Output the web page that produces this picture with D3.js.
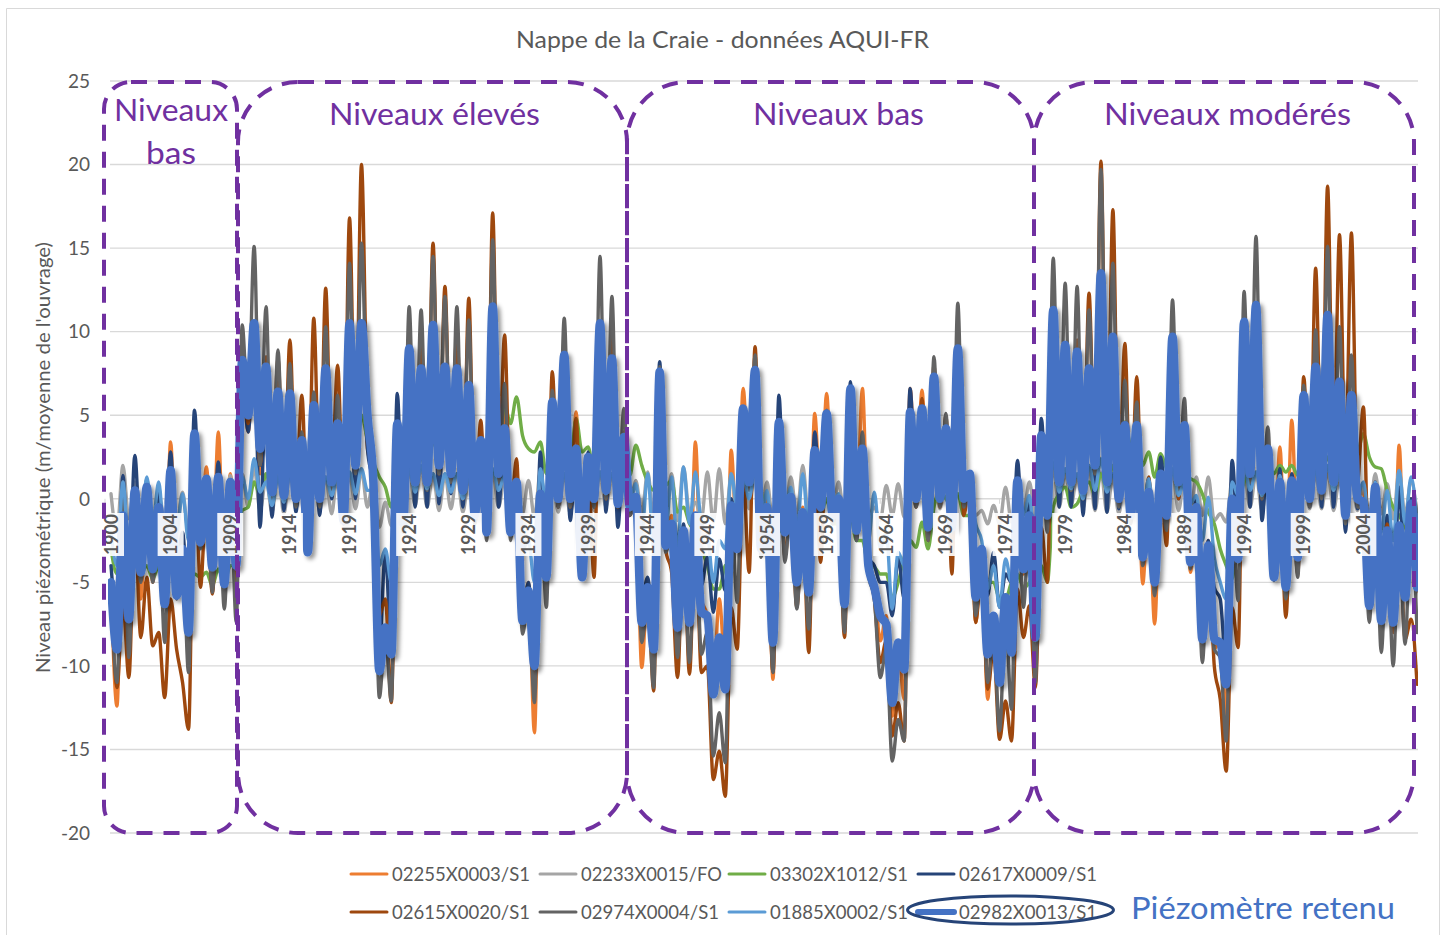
<!DOCTYPE html>
<html><head><meta charset="utf-8">
<script src="https://cdnjs.cloudflare.com/ajax/libs/d3/7.8.5/d3.min.js"></script>
<style>html,body{margin:0;padding:0;background:#fff}svg{display:block}text{font-family:Lato,"Open Sans",sans-serif}</style>
</head><body><svg id="c" width="1446" height="935"></svg>
<script>
// Each series alternates a seasonal high and low: high at sample n, low at sample n+0.5
const chartTitle = "Nappe de la Craie - données AQUI-FR";
const yAxisTitle = "Niveau piézométrique (m/moyenne de l'ouvrage)";
const tickLabels = ["1900","1904","1909","1914","1919","1924","1929","1934","1939","1944","1949","1954","1959","1964","1969","1974","1979","1984","1989","1994","1999","2004"];
const yTicks = [-20,-15,-10,-5,0,5,10,15,20,25];

const s02255 = [-5,-12.4,0,-9,0,-6,.5,-5,-.5,-6.5,3.4,-5.5,-2.5,-9,3.5,-2.5,1.9,-4,4,-5,1.5,-4.5,7,4,9,1.5,7,.3,6,0,5.5,-.3,3,-3,5,0,7,1,4,-1,9.5,1,9.5,3,1.5,-9,-8,-11.5,4,-1.5,8,1,7,1,9.5,1.5,8,1,7,.5,6,-1,3.5,-1.5,10,1.5,5.3,-1.5,1,-7.5,-5,-14,0,-4,5.5,0,8,0,5.2,-4,2.5,0,9.5,.5,8,0,3.5,-.5,0,-10.1,-5,-9.5,7,-2,-1,-7,-2,-6.5,3.4,-6,-7,-11,-6,-10,2.9,-3,6.6,1,7.5,-2.5,0,-10.8,4.5,-2,.5,-5,-.5,-5.5,5.1,-.5,6.3,-1,0,-6,6.3,-1.5,6.6,-3.5,-5,-8.5,-7,-13,-9,-12,6.6,.5,6.5,-1.5,7,.2,4.2,-2,8.5,0,1.5,-7.4,-3,-12,-7,-11,-6,-9,1,-4.5,-.5,-8,3.5,-.5,10.5,1,8.5,1,8,.5,7,2,12,1,9,.5,4,-1,4,-5.1,0,-7.5,1,-1.5,9,1,4,-4.4,-.5,-8,-2.5,-9,-8.5,-13,0,-3.5,10,1.5,11,.5,3,-4.5,3.1,-5,4.7,-3.5,6,0,7.5,.5,10.5,1,6.5,-1,6,0,.5,-6,1,-6.5,-1.5,-7,3.2,-6,0,-5.5];
const s02233 = [.3,-2,2,-1.2,1,-1.5,1.2,-1.6,.6,-2.2,1,-1.6,.4,-2,1,-1.2,1.1,-1.4,1.7,-1.2,1.4,-.9,1.5,-.5,1.9,-.7,1.2,-.8,1.5,-.9,1.6,-.6,1.7,-.8,1.4,-.7,1.3,-.9,1.6,-1,1.5,-.6,1.7,-.5,1.2,-1.7,-.2,-1.6,1.2,-.7,1.7,-.4,2,-.5,1.5,-.7,1.4,-.6,1.5,-.8,1.2,-.7,1.6,-.6,1.6,-.5,1.3,-.8,1.2,-.9,1.1,-1.1,1.6,-1,1.3,-.8,1.5,-.9,1.1,-1.1,1.3,-.7,1.6,-.5,1.5,-.7,1.2,-.9,1.1,-.9,1.6,-1.2,1.7,-.8,1.5,-1.3,1.9,-.8,-.2,-1.2,1.6,-1.4,1.8,-1.5,1.4,-.9,1.5,-.6,1.8,-1,1,-1.3,1.2,-.9,1.3,-1.1,2,-1.2,1.2,-.8,1.5,-.8,1,-1.2,1.4,-.7,.9,-1,-.5,-1.3,.8,-1,.9,-1.1,1.1,-.5,1.2,-.8,1.5,-.6,1.2,-.9,1.7,-.5,1.2,-1,-.7,-1.5,-.4,-1.5,.7,-1.4,.5,-.8,1,-1.1,1.2,-.8,1.8,-.5,1.6,-.4,1.4,-.6,1.9,-.7,1.6,-.8,1.3,-.9,1.5,-.9,1.2,-1,1.1,-.9,.9,-.6,1.6,-.7,1.2,-.8,1.3,-1,1.3,-1.3,-.9,-1.4,1.1,-.6,1.7,-.5,1.5,-.7,1.2,-.9,1.3,-.8,1.1,-.9,1.4,-.6,1.5,-.6,1.7,-.7,1.2,-.9,1.3,-.7,.9,-1,1.5,-.9,.9,-1.2,1.7,-1,1.1,-1];
const s03302 = [-3,-4.5,-3.5,-5,-3.5,-4.5,-4,-4.8,-4,-5,-4.2,-5,-4.5,-5,-4.5,-4.7,-4.4,-5.2,-4.2,-5,-4,-4,-.7,-.5,1,.2,1.5,.5,1.2,.6,1.5,.7,1.8,.9,2,1,2.4,1.2,2,1.4,3,2,5,3.5,2.2,1.3,.7,-.5,2,.5,3,2,2.5,1.5,3.5,2.5,3.2,2.2,3,2.2,3.6,2.4,3,2,4,3,5.6,4.5,6.1,3.8,3,2.8,3.4,1.5,3,1.5,3.2,2,4.8,2.8,3.1,1.5,3,1.5,2.5,1.5,2.2,1.4,3.2,2,1,.5,1.5,.8,1.1,-.8,-.5,-1.5,-2,-3,-4,-5.4,-5.4,-4,-3.8,-1.5,.5,1,2,.5,-2,-2.5,-2,-1.5,-1,-2,-1.5,-2,-.5,-1,0,-1.5,-1.5,-2,-1,-2.5,-2.5,-4,-4.1,-4.5,-4.5,-5.9,-5,-3.5,-2.5,-2.9,-1.4,-3,-.5,.5,0,-.5,.3,-1,-1,-3,-4,-5,-5,-6,-6,-5,-4.5,-5.3,-5,-4,-4,-5,-.5,.3,.7,-.5,-.3,.5,1,.2,1.5,.5,2,1.2,4.6,3,2.5,2,2.8,1.3,2.7,1.8,1.5,1.2,1.5,1.2,1,.3,-.8,-1.5,-3,-4,-4.8,-1,1,1.5,1.5,2,2,1.5,2,1.6,2,1.4,1.8,1.2,2,1.5,2.5,1.5,2.2,1.8,2.8,2.8,3.9,2.5,1.9,1.8,.5,-.5,-1,-1.7,-2.5,-3];
const s02617 = [-4,-7,1.4,-5,2.6,-3,.5,-3,.5,-3,2.8,-4,-2,-6.5,5.3,-1.5,1.2,-3,2.2,-4,1,-3,7.5,4,8.5,-1.7,7,-1.1,6,-.7,6,-.8,3.2,-3,5,-1,7,0,4,-1.5,9,0,9.5,3,.5,-9,-3.2,-9,6.3,-2,8,-.5,7.5,-.5,10,-.3,7.5,.3,7.5,-.5,6.5,-.2,3,-.5,11,-.5,4,-1.7,1,-7,-5,-9.5,2.8,-4.5,5.5,-.5,8,-1.3,3,-4.5,2.8,-.5,10,-.8,8,-1.7,3.5,-1,0,-6,-4.7,-8,8.2,-3,-2,-7,-1.5,-7,-1,-5.2,-3.5,-6.8,-3.6,-5.5,0,-2.5,5.4,1,7.5,-3,-.5,-8,6.2,-2,0,-4.5,-.8,-5,4,-.5,5,-1,0,-6,7,-2.5,3,-3.5,-4,-5,-5,-7,-3.5,-6,6.6,0,5.4,-1.7,7.2,0,4.2,-1.7,8.8,-.5,1.5,-3.5,-3,-5.8,-3.2,-6.5,-4.5,-5,2.3,-3,0,-5.5,4.8,-1,11,-.5,9,-.5,8.5,-1,7.5,-.6,13,-.8,9.5,-.6,4.2,-1,4,-2.5,1,-4.5,2.5,-.5,9.5,0,4.2,-3,0,-7,-2.5,-5.3,-6,-10,2.3,-2.5,10.3,-.5,11.3,-1.3,3,-4,1.8,-4.8,1.5,-3,6,-.5,7.7,-.5,10.8,-.5,6.8,-2,6,-.6,0,-5.5,1,-6,-1,-6.5,.7,-5,0,-4.5];
const s02615 = [-5,-11.3,-6.2,-10.7,-1.5,-8.3,-4.7,-8.8,-8,-11.9,-6,-9,-11,-13.8,3,-5.3,0,-5.7,1,-5.5,.5,-6,8.9,4.5,10,2,8.5,.5,8.4,0,9.5,0,6.2,-2,10.8,0,12.6,1,8,-.5,16.8,2,20,5,2,-7,-6,-12.2,3.5,-1.5,9,1,9.5,1,15.3,1.5,12.7,1,10,0,12,-1.5,4.7,-2,17.1,1,9.8,-1,2.4,-7,-5.5,-11.5,0,-5.5,7.6,-.5,8.9,-.5,4.8,-4.5,2,-4.7,10,0,9.7,-.5,4,-1,0,-8,-5.5,-11.5,7,-3,-4.4,-10.7,-2.5,-10.5,-2,-10.4,-10,-16.8,-15.1,-17.8,-6.5,-9,1.5,-4.4,9.1,-3,-1.5,-10.4,4,-3.5,-.5,-6.5,-1.5,-9.2,2.5,-3.8,4.5,-1.5,-.5,-8.3,6.3,-2,3.5,-4,-6,-9.8,-8.5,-14.2,-12.2,-14.5,5,-.5,6,-2.5,8,-.5,5,-4.5,9,-1,1,-7.4,-4,-11.4,-9,-14.4,-12.1,-14.5,-5.4,-8.3,-6.4,-11.3,-1.7,-5,10,1,9,.5,9.5,0,12.3,1.5,20.2,.5,17.3,0,9.3,-1,7.3,-2,1.3,-4,1,-2.8,10,0,5.2,-4,-1,-8,-3,-10,-12,-16.3,-6.5,-8.9,9,1,11,0,3,-4.5,.5,-7.1,.5,-4.5,7.3,0,13.8,1,18.7,2,15.8,2,15.9,1,5.5,-5,1,-7,-1.5,-8,-2,-8.4,-7.2,-11.1];
const s02974 = [-5,-11,1,-9.5,0,-5,.5,-5,-1,-8.6,1.5,-6,-3,-10.4,3.5,-3,1,-5.6,1,-6.6,.8,-7.4,10.4,5,15.1,2,11.5,0,8.9,0,8.1,-.5,4,-3,6.4,-.5,10.3,.5,6.2,-1.5,14.1,1.5,15.3,4,1,-11.9,-8,-12.1,4,-2,11.5,.5,11.3,.5,14.5,1.5,12.1,1,11.5,0,10.7,-1.5,3.5,-2.5,15.5,1,6.9,-2.5,1,-8.1,-6,-12.2,0,-6.5,6.5,-.5,10.8,-.5,3,-4.8,2.5,-.5,14.5,0,12.1,-.5,5.4,-1,0,-8.6,-6,-11.3,7.9,-3.2,-2,-9.5,-2.5,-9.8,-1.5,-9.3,-8,-15.4,-12.8,-15.8,-.5,-6.2,5.2,.5,8.6,-3.5,-1,-10.4,4.5,-3.8,-.5,-6.6,-1.5,-7.8,2.5,-1,5.3,-1.5,-.5,-8,6.3,-2.5,4,-4.5,-6,-10.7,-9,-15.7,-13.2,-14.5,5.3,-.5,5.5,-2.5,8.5,-.5,5.1,-2,11.7,-.5,1,-7,-3.5,-11,-8,-13.9,-7,-12.6,.8,-6.5,-1.5,-11,3.5,-2,14.4,.5,12.9,.5,12.7,0,11.3,1.5,19.7,.5,14.1,-.5,7.1,-1.5,5.8,-4,0,-5.8,1,-1.9,11.9,.5,6,-4.2,-1,-9.8,-3.5,-9,-9.5,-14.5,-.5,-6.1,12.4,1,15.7,0,4.3,-4.9,.5,-6,.5,-4.7,6.8,-.5,10.1,0,15.1,.5,10.3,-1.5,8.6,-.5,-.5,-7.4,.2,-9.2,-2.5,-10,-2,-8.7,-1,-8];
const s01885 = [-2,-4,1,-3,.5,-2,1.3,-1.5,1,-2.5,1.5,-2,.3,-2.5,1.2,-1,1.2,-1.5,1,-1.5,.8,-.5,1.3,0,2.4,.4,1,-.4,1.3,-.2,1.5,.3,1.6,-.3,1.4,0,1.3,.2,1.5,.2,1.6,.3,1.8,.5,.5,-4,-3,-5,1,-.4,1.8,.4,2,.6,1.5,.2,1.5,.4,1.5,0,1.2,.2,1.4,.3,1.8,.5,1.4,.2,.8,-3,-2.5,-5,1.8,-.5,1.2,.3,1.5,0,1.2,-.8,1.3,.1,1.6,.3,1.5,.2,1.2,-.3,.9,-2,1.5,-3,1.6,-2,1.3,-3,1.9,-1.5,1.6,-1.5,-2,-5,-2.5,-3,1.5,-.5,1.5,0,1.8,-1.5,.5,-3,1,-.8,.7,-2,1.5,-2,1.3,-.5,1.5,-.5,.3,-2.5,1.6,0,1,-2.5,.4,-3,-2,-6.6,-3.2,-4,1,.2,1.3,-.5,1.4,0,1.2,-.5,1.8,.2,1,-1.5,-2.5,-5.4,-4,-6.5,-3.6,-5,1,-1,.2,-3.5,1,0,2.2,.4,1.8,.6,1.5,0,2,.5,2.4,.4,1.5,.2,1.4,-.1,1.3,-1,1.2,-2,1,0,1.8,.2,1,-.3,.2,-2.5,.1,-3.5,-5,-6,1,.2,2,.5,1.6,.2,1.3,-.5,1.4,-1,1.2,-.5,1.5,.3,1.7,.4,2,.5,1.5,.1,1.4,.2,1,-1.5,1,-2,.5,-2.5,1.7,-1.5,1.3,-1.5];
const s02982 = [-5,-9,-1,-7.2,.5,-4.4,.7,-4.2,-.5,-6.3,1.7,-5.8,-3,-8,3.9,-2.6,1.2,-4.1,1.3,-5.1,1,-4,8.3,5,10.5,3,7.9,.4,6.4,.2,6.3,0,3.5,-3.2,5.6,0,7.8,1,4.5,-1.3,10.5,2,10.5,5,1,-10.3,-7.7,-9.3,4.5,-1.5,9,1,7.8,1,10.4,2,7.9,1.5,7.8,.5,6.8,-1,3.5,-2,11.5,1.5,4.2,-2,1,-7.3,-5.5,-10,.3,-4.7,5.8,0,8.6,0,3,-4.7,2.5,0,10.5,.5,8.4,-.3,3.7,-.5,.1,-7.4,-5.3,-9,7.6,-2.8,-1.5,-7.7,-1.9,-7.4,-1,-6.8,-7,-11.7,-8.3,-11.4,-.4,-3,5.4,1,7.7,-3,-.5,-8.6,4.6,-2,.1,-5,-.8,-5.6,2.9,-.5,5.1,-1,0,-6.3,6.6,-1.9,3,-4,-5.3,-7,-7.5,-12.2,-8.6,-10.2,5.2,0,5.4,-1.7,7.3,0,4.2,-1.7,9,0,1.5,-5.9,-3,-9.3,-7,-11,-5.9,-9.2,1.1,-4.2,-1,-8.3,3.8,-1,11.3,1,9.2,1,8.8,.5,7.8,2,13.5,1,9.7,0,4.4,-1,4.4,-3.5,.4,-5,1.5,-1,9.7,1,4.4,-3.8,-.5,-8.4,-2.8,-8.4,-8.6,-11.1,0,-3.6,10.6,1.5,11.6,.5,3,-4.7,1,-5.3,1.1,-3.5,6.2,0,7.9,.5,11,1,7,-1,6.2,0,-.2,-6.4,.7,-7.3,-1.9,-7.4,-1.6,-5.9,-.3,-5.3];

const seriesNames = ["02255X0003/S1","02233X0015/FO","03302X1012/S1","02617X0009/S1","02615X0020/S1","02974X0004/S1","01885X0002/S1","02982X0013/S1"];
const seriesValues = [s02255,s02233,s03302,s02617,s02615,s02974,s01885,s02982];
const seriesColors = ["#ED7D31","#A5A5A5","#70AD47","#264478","#9E480E","#636363","#5B9BD5","#4472C4"];
const seriesWidths = [3.4,3.4,3.4,3.4,3.4,3.4,3.4,8.5];

const periods = [
  {x0:104,x1:237,r:27,lines:["Niveaux","bas"],cx:171,w:[114,50]},
  {x0:238,x1:627,r:60,lines:["Niveaux élevés"],cx:434.5,w:[211]},
  {x0:627,x1:1034,r:60,lines:["Niveaux bas"],cx:838.5,w:[171]},
  {x0:1034,x1:1414,r:60,lines:["Niveaux modérés"],cx:1227.5,w:[247]}
];

const svg = d3.select("#c");
const x = d3.scaleLinear().domain([0,110]).range([111,1423]);
const y = d3.scaleLinear().domain([-20,25]).range([833,81]);
const gridL = 110, gridR = 1418, textGrey = "#595959";

const defs = svg.append("defs");
const f = defs.append("filter").attr("id","sh").attr("x","-5%").attr("y","-5%").attr("width","110%").attr("height","110%");
f.append("feDropShadow").attr("dx",3).attr("dy",3).attr("stdDeviation",2.2).attr("flood-color","#000").attr("flood-opacity",.42);
defs.append("clipPath").attr("id","clip").append("rect").attr("x",gridL-2).attr("y",60).attr("width",gridR-gridL+2).attr("height",800);

// chart frame
svg.append("path").attr("d","M6.5,935V8.5H1439.5V935").attr("fill","none").attr("stroke","#d9d9d9").attr("stroke-width",1);

// y axis + grid
const yAxis = svg.append("g").attr("transform",`translate(${gridL},0)`)
  .call(d3.axisLeft(y).tickValues(yTicks).tickSize(0).tickPadding(20).tickFormat(d=>String(d)));
yAxis.select(".domain").remove();
yAxis.selectAll("text").attr("font-size",19).attr("fill",textGrey).attr("dy","0.33em").style("font-family","Lato");
svg.append("g").selectAll("line").data(yTicks).join("line")
  .attr("x1",gridL).attr("x2",gridR).attr("y1",d=>y(d)).attr("y2",d=>y(d))
  .attr("stroke","#d9d9d9").attr("stroke-width",1.4);

// zero axis ticks
svg.append("g").selectAll("line").data(tickLabels).join("line")
  .attr("x1",(d,i)=>x(i*5)-6).attr("x2",(d,i)=>x(i*5)-6).attr("y1",y(0)).attr("y2",y(0)+5)
  .attr("stroke","#d9d9d9");

// series
const line = d3.line().x((d,i)=>x(i/2)).y(d=>y(d)).curve(d3.curveMonotoneX);
const plot = svg.append("g").attr("clip-path","url(#clip)");
seriesValues.forEach((vals,k)=>{
  plot.append("path").attr("d",line(vals)).attr("fill","none")
    .attr("stroke",seriesColors[k]).attr("stroke-width",seriesWidths[k])
    .attr("stroke-linecap","round").attr("stroke-linejoin","round")
    .attr("filter",k===7?"url(#sh)":null);
});

// year labels
const xl = svg.append("g");
tickLabels.forEach((t,i)=>{
  const px = x(i*5);
  xl.append("rect").attr("x",px-13).attr("y",513).attr("width",26).attr("height",43).attr("fill","#fff").attr("fill-opacity",.9);
  xl.append("text").attr("transform",`translate(${px+6.5},534.5) rotate(-90)`).attr("text-anchor","middle")
    .attr("font-size",18.5).attr("font-weight",700).attr("fill",textGrey).attr("textLength",41).attr("lengthAdjust","spacingAndGlyphs").text(t);
});

// period frames
periods.forEach(p=>{
  svg.append("rect").attr("x",p.x0).attr("y",82).attr("width",p.x1-p.x0).attr("height",751).attr("rx",p.r).attr("ry",p.r)
    .attr("fill","none").attr("stroke","#7030A0").attr("stroke-width",4).attr("stroke-dasharray","16 11");
  p.lines.forEach((l,j)=>{
    svg.append("text").attr("x",p.cx).attr("y",(p.lines.length>1?121:125)+j*43).attr("text-anchor","middle")
      .attr("font-size",31).attr("fill","#7030A0").attr("textLength",p.w[j]).attr("lengthAdjust","spacingAndGlyphs").text(l);
  });
});

// titles
svg.append("text").attr("x",722.5).attr("y",48).attr("text-anchor","middle").attr("font-size",23).attr("fill",textGrey)
  .attr("textLength",413).attr("lengthAdjust","spacingAndGlyphs").text(chartTitle);
svg.append("text").attr("transform","translate(50,457.5) rotate(-90)").attr("text-anchor","middle").attr("font-size",19).attr("fill",textGrey)
  .attr("textLength",431).attr("lengthAdjust","spacingAndGlyphs").text(yAxisTitle);

// legend
const legendX = [350,539,728,917], legendY = [874,912];
seriesNames.forEach((n,k)=>{
  const c = k%4, r = k<4?0:1, lx = legendX[c], ly = legendY[r];
  svg.append("line").attr("x1",lx+1).attr("x2",lx+37).attr("y1",ly).attr("y2",ly)
    .attr("stroke",seriesColors[k]).attr("stroke-width",k===7?6:3).attr("stroke-linecap","round");
  svg.append("text").attr("x",lx+42).attr("y",ly+7).attr("font-size",19).attr("fill",textGrey)
    .attr("textLength",k===1?141:138).attr("lengthAdjust","spacingAndGlyphs").text(n);
});
svg.append("ellipse").attr("cx",1010.5).attr("cy",910).attr("rx",103).attr("ry",14).attr("fill","none").attr("stroke","#264478").attr("stroke-width",3);
svg.append("text").attr("x",1131).attr("y",919).attr("font-size",30).attr("fill","#4472C4").attr("textLength",264).attr("lengthAdjust","spacingAndGlyphs").text("Piézomètre retenu");
</script></body></html>
